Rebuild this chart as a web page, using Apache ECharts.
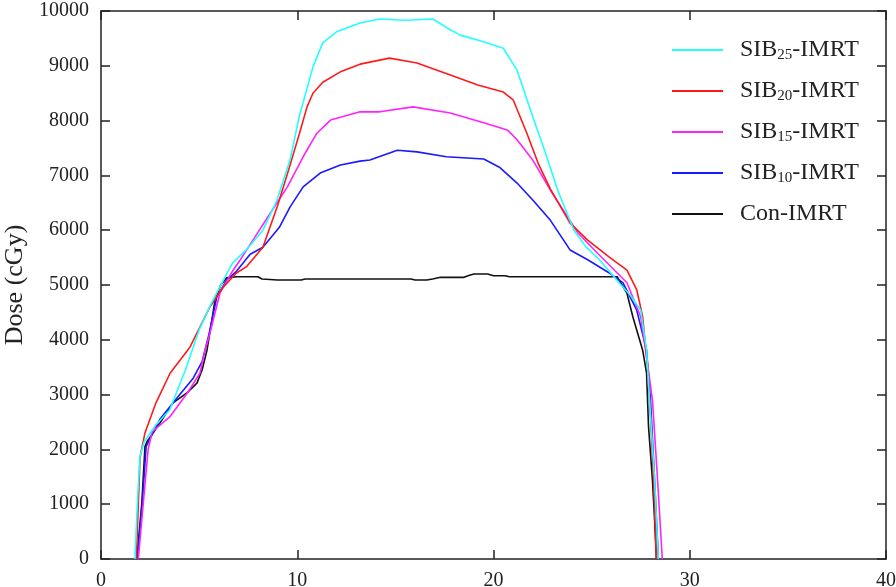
<!DOCTYPE html>
<html>
<head>
<meta charset="utf-8">
<script src="https://cdn.jsdelivr.net/npm/echarts@6/dist/echarts.min.js"></script>
<style>
  html, body { margin: 0; padding: 0; background: #fff; }
  #chart { width: 896px; height: 587px; }
</style>
</head>
<body>
<div id="chart"></div>
<script>
(function () {

    // dose profiles, [position, dose in cGy]
    var sib25 = [
        [1.73, 0], [1.85, 1000], [1.98, 1860], [2.2, 2140], [2.8, 2450], [3.5, 2720],
        [4.3, 3450], [5.0, 4180], [5.6, 4650], [6.06, 4965], [6.7, 5400], [7.4, 5640],
        [8.25, 6000], [8.97, 6550], [9.63, 7280], [10.1, 8070], [10.8, 8980], [11.3, 9420],
        [12.0, 9620], [13.2, 9780], [14.2, 9855], [15.5, 9830], [16.9, 9855], [17.6, 9700],
        [18.3, 9560], [19.5, 9440], [20.5, 9320], [21.2, 8920], [22.0, 8070], [22.6, 7460],
        [23.3, 6700], [24.1, 6000], [24.7, 5700], [25.4, 5460], [26.4, 5040], [27.0, 4800],
        [27.5, 4540], [27.8, 3810], [27.95, 2900], [28.2, 1500], [28.4, 0]
    ];
    var sib20 = [
        [1.8, 0], [1.9, 1000], [1.99, 1860], [2.24, 2300], [2.8, 2850], [3.52, 3390],
        [4.54, 3870], [5.55, 4600], [6.2, 4950], [6.9, 5220], [7.4, 5330], [8.25, 5690],
        [9.0, 6450], [9.6, 7150], [10.1, 7750], [10.5, 8250], [10.8, 8500], [11.3, 8700],
        [12.2, 8890], [13.2, 9030], [14.7, 9140], [16.1, 9050], [17.8, 8830], [19.2, 8650],
        [20.5, 8520], [21.0, 8380], [21.7, 7770], [22.3, 7200], [22.9, 6750], [23.9, 6130],
        [24.8, 5820], [25.9, 5510], [26.8, 5270], [27.3, 4910], [27.6, 4420], [27.85, 3500],
        [28.0, 2600], [28.15, 1500], [28.3, 0]
    ];
    var sib15 = [
        [1.9, 0], [2.15, 1000], [2.4, 1990], [2.6, 2320], [3.52, 2600], [4.4, 3030],
        [5.04, 3390], [5.3, 3800], [5.55, 4120], [6.06, 4850], [6.73, 5270], [7.1, 5460],
        [7.8, 5850], [8.5, 6240], [9.5, 6790], [10.3, 7340], [11.0, 7770], [11.7, 8010],
        [13.2, 8160], [14.2, 8160], [15.9, 8250], [17.8, 8140], [19.5, 7960], [20.7, 7830],
        [21.2, 7650], [22.0, 7280], [22.9, 6730], [24.3, 5950], [25.3, 5580], [26.8, 5040],
        [27.5, 4420], [27.8, 3690], [28.1, 2900], [28.35, 1500], [28.6, 0]
    ];
    var sib10 = [
        [1.85, 0], [2.1, 1000], [2.3, 2050], [3.0, 2550], [3.9, 2950], [4.7, 3300],
        [5.15, 3600], [5.5, 4100], [5.9, 4780], [6.4, 5090], [6.9, 5250], [7.6, 5560],
        [8.25, 5690], [9.1, 6060], [9.63, 6420], [10.3, 6790], [11.2, 7050], [12.2, 7190],
        [13.2, 7260], [13.7, 7280], [15.1, 7460], [16.1, 7430], [17.6, 7340], [19.5, 7300],
        [20.3, 7150], [21.2, 6860], [22.0, 6550], [22.9, 6180], [23.9, 5640], [24.8, 5460],
        [25.9, 5220], [26.6, 5040], [27.3, 4540], [27.8, 3810], [28.0, 2900], [28.2, 1500],
        [28.4, 0]
    ];
    var conImrt = [
        [1.83, 0], [1.88, 220], [2.08, 1020], [2.24, 2050], [2.34, 2140], [3.0, 2480],
        [3.67, 2850], [4.38, 3030], [4.89, 3210], [5.15, 3450], [5.4, 3810], [5.65, 4360],
        [5.81, 4730], [6.1, 5000], [6.4, 5130], [6.9, 5150], [8.0, 5150], [8.2, 5110],
        [9.0, 5090], [10.2, 5090], [10.4, 5110], [15.8, 5110], [16.0, 5090], [16.6, 5090],
        [16.9, 5110], [17.3, 5140], [18.5, 5140], [18.7, 5170], [19.0, 5200], [19.7, 5200],
        [20.0, 5170], [20.6, 5170], [20.8, 5150], [26.3, 5150], [26.8, 4850], [27.1, 4420],
        [27.6, 3810], [27.8, 3390], [27.9, 2410], [28.1, 1440], [28.2, 770], [28.3, 0]
    ];

    var seriesNames = ['SIB25-IMRT', 'SIB20-IMRT', 'SIB15-IMRT', 'SIB10-IMRT', 'Con-IMRT'];
    var seriesColors = ['#22ffff', '#ff1a1a', '#ff22ff', '#1a1aff', '#111111'];
    var seriesData = [sib25, sib20, sib15, sib10, conImrt];
    var subscripts = ['25', '20', '15', '10', ''];

    var xTicks = [0, 10, 20, 30, 40];
    var yTicks = [0, 1000, 2000, 3000, 4000, 5000, 6000, 7000, 8000, 9000, 10000];

    var font = '"Liberation Serif", "Times New Roman", serif';
    var ink = '#222';

    function axisBase(show) {
        return {
            type: 'value',
            axisLine: { show: true, onZero: false, lineStyle: { color: ink, width: 1.5 } },
            axisTick: { show: true, inside: true, length: 9, lineStyle: { color: ink, width: 1.5 } },
            splitLine: { show: false },
            axisLabel: {
                show: show,
                fontFamily: font,
                fontSize: 20,
                color: ink,
                margin: 12,
                formatter: function (v) { return String(v); }
            }
        };
    }

    var xBottom = axisBase(true);
    xBottom.position = 'bottom';
    xBottom.min = xTicks[0];
    xBottom.max = xTicks[xTicks.length - 1];
    xBottom.interval = 10;
    var xTop = axisBase(false);
    xTop.position = 'top';
    xTop.min = xBottom.min;
    xTop.max = xBottom.max;
    xTop.interval = 10;

    var yLeft = axisBase(true);
    yLeft.position = 'left';
    yLeft.min = yTicks[0];
    yLeft.max = yTicks[yTicks.length - 1];
    yLeft.interval = 1000;
    yLeft.name = 'Dose (cGy)';
    yLeft.nameLocation = 'middle';
    yLeft.nameGap = 73;
    yLeft.nameTextStyle = { fontFamily: font, fontSize: 26, color: ink };
    var yRight = axisBase(false);
    yRight.position = 'right';
    yRight.min = yLeft.min;
    yRight.max = yLeft.max;
    yRight.interval = 1000;

    var series = [];
    // draw the conventional plan first so the SIB curves sit on top
    for (var i = seriesNames.length - 1; i >= 0; i--) {
        series.push({
            name: seriesNames[i],
            type: 'line',
            data: seriesData[i],
            showSymbol: false,
            symbol: 'none',
            lineStyle: { color: seriesColors[i], width: 1.6 },
            itemStyle: { color: seriesColors[i] },
            silent: true
        });
    }

    function legendFormatter(name) {
        var idx = seriesNames.indexOf(name);
        var sub = subscripts[idx];
        if (!sub) return '{g|}' + name;
        return '{g|}SIB{s|' + sub + '}-IMRT';
    }

    var chart = echarts.init(document.getElementById('chart'));

    var option = {
        backgroundColor: '#fff',
        animation: false,
        grid: { left: 101, right: 10, top: 11, bottom: 28, containLabel: false, outerBoundsMode: 'none' },
        xAxis: [xBottom, xTop],
        yAxis: [yLeft, yRight],
        legend: {
            data: seriesNames,
            orient: 'vertical',
            left: 667,
            top: 32,
            icon: 'rect',
            itemWidth: 51,
            itemHeight: 2,
            itemGap: 15,
            formatter: legendFormatter,
            textStyle: {
                fontFamily: font,
                fontSize: 24,
                color: ink,
                lineHeight: 26,
                rich: {
                    g: { width: 12 },
                    s: { fontFamily: font, fontSize: 15, lineHeight: 19, verticalAlign: 'bottom', color: ink }
                }
            }
        },
        series: series
    };

    chart.setOption(option);
})();
</script>
</body>
</html>
